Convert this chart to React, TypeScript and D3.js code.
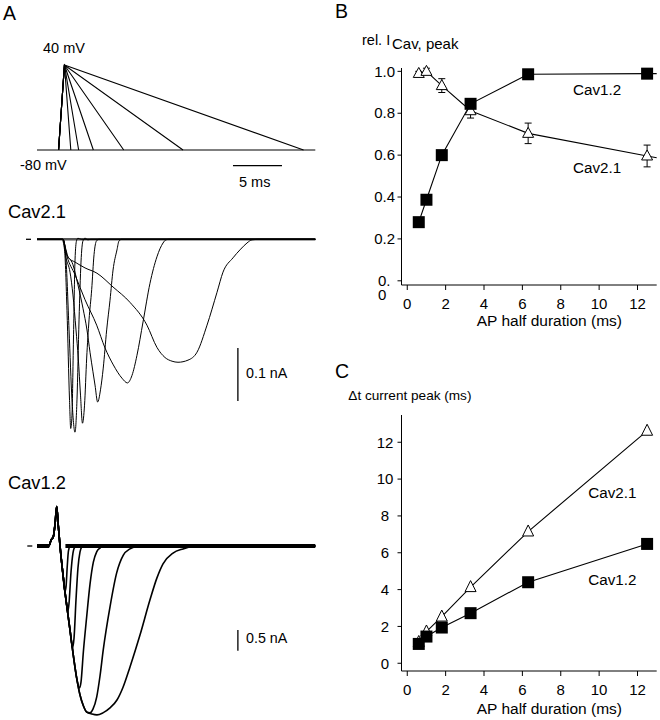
import React from "react";
import * as d3 from "d3";

const W = 660;
const H = 720;
const FONT = "'Liberation Sans', Arial, Helvetica, sans-serif";

// ---------- Panel A: AP-like voltage commands ----------
const sweepEnd = 28.4; // ms
const apStart = 2.2; // ms
const apPeak = 2.8; // ms
const apEnds = [3.45, 4.25, 5.75, 8.85, 14.9, 27.2]; // ms, back at -80 mV
const vRest = -80;
const vTop = 40;

// ---------- Cav2.1 currents (t ms, I pA) ----------
const cav21Trace1: [number, number][] = [[0, 0], [2.55, 0], [2.81, -20], [3.06, -134], [3.32, -304], [3.44, -357], [3.57, -332], [3.72, -190], [3.88, -39], [4.03, -3], [4.18, 2], [4.5, 0], [28.4, 0]];
const cav21Trace2: [number, number][] = [[0, 0], [2.65, 0], [2.96, -39], [3.27, -171], [3.57, -303], [3.88, -364], [4.08, -303], [4.29, -152], [4.49, -43], [4.69, -3], [4.9, 2], [5.2, -1], [5.5, 0], [28.4, 0]];
const cav21Trace3: [number, number][] = [[0, 0], [2.65, 0], [2.96, -35], [3.37, -62], [3.67, -105], [3.98, -171], [4.21, -224], [4.44, -294], [4.64, -347], [4.85, -313], [5.07, -224], [5.31, -152], [5.58, -95], [5.82, -29], [6.07, -3], [6.33, 0], [28.4, 0]];
const cav21Trace4: [number, number][] = [[0, 0], [2.65, 0], [2.96, -24], [3.67, -48], [4.18, -86], [4.69, -130], [5.1, -171], [5.41, -213], [5.71, -250], [5.92, -275], [6.19, -307], [6.48, -284], [6.76, -243], [7.11, -171], [7.45, -115], [7.76, -58], [8.16, -20], [8.37, -3], [8.67, 0], [28.4, 0]];
const cav21Trace5: [number, number][] = [[0, 0], [2.65, 0], [3.06, -32], [3.88, -67], [4.9, -114], [6.09, -162], [6.94, -205], [7.79, -237], [8.67, -262], [9.23, -271], [9.69, -257], [10.2, -219], [10.82, -156], [11.53, -83], [12.24, -33], [12.86, -7], [13.16, -1], [13.5, 0], [28.4, 0]];
const cav21Trace6: [number, number][] = [[0, 0], [2.65, 0], [2.96, -20], [3.21, -35], [3.88, -43], [4.9, -54], [6.12, -64], [7.76, -90], [9.49, -119], [11.22, -162], [12.24, -204], [13.06, -223], [13.78, -230], [14.39, -232], [15.41, -228], [16.33, -213], [17.35, -162], [18.37, -100], [18.98, -62], [20.0, -35], [20.71, -20], [21.43, -7], [21.94, -1], [22.76, 0], [28.4, 0]];

// ---------- Cav1.2 currents (t ms, I nA) ----------
const cav12Onset: [number, number][] = [[0, 0], [1.2, 0], [1.45, 0.15], [1.66, 0.22], [1.85, 0.55], [2.01, 0.95], [2.17, 0.5], [2.35, 0], [2.68, -0.75], [3.03, -1.43], [3.37, -2.03], [3.7, -2.63], [4.05, -3.19], [4.39, -3.6], [4.73, -3.86], [5.07, -4.01]];
const cav12Tail1: [number, number][] = [[2.84, -1.11], [2.96, -0.99], [3.09, -0.48], [3.21, -0.12], [3.37, -0.01], [3.57, 0], [28.4, 0]];
const cav12Tail2: [number, number][] = [[3.14, -1.59], [3.27, -1.38], [3.47, -0.63], [3.67, -0.17], [3.88, -0.02], [4.08, 0], [28.4, 0]];
const cav12Tail3: [number, number][] = [[3.62, -2.46], [3.78, -2.22], [3.98, -1.3], [4.18, -0.53], [4.39, -0.14], [4.59, -0.02], [4.8, 0], [28.4, 0]];
const cav12Tail4: [number, number][] = [[4.34, -3.43], [4.49, -3.29], [4.73, -2.56], [5.07, -1.71], [5.41, -0.92], [5.75, -0.39], [6.09, -0.14], [6.43, -0.05], [6.73, 0], [28.4, 0]];
const cav12Tail5: [number, number][] = [[5.41, -4.03], [5.71, -3.94], [6.09, -3.65], [6.43, -3.14], [6.76, -2.51], [7.45, -1.47], [8.13, -0.65], [8.81, -0.22], [9.49, -0.07], [10.1, -0.01], [10.5, 0], [28.4, 0]];
const cav12Tail6: [number, number][] = [[5.61, -4.06], [6.12, -4.08], [6.73, -4.03], [7.45, -3.91], [8.16, -3.72], [8.78, -3.41], [9.49, -2.92], [10.51, -2.15], [11.53, -1.3], [12.24, -0.77], [12.86, -0.43], [13.88, -0.17], [14.9, -0.07], [15.92, -0.01], [16.63, 0], [28.4, 0]];

// ---------- Panel B ----------
const apHalf = [0.6, 1.0, 1.8, 3.3, 6.3, 12.5];
const relCav12 = [0.28, 0.387, 0.6, 0.845, 0.986, 0.989];
const relCav21 = [0.99, 1.0, 0.932, 0.812, 0.704, 0.596];
const relCav21Err = [0.01, 0.015, 0.033, 0.035, 0.049, 0.052];
const ticksBx = [0, 2, 4, 6, 8, 10, 12];
const ticksBy = [0.2, 0.4, 0.6, 0.8, 1.0];

// ---------- Panel C ----------
const dtCav21 = [1.15, 1.72, 2.53, 4.13, 7.15, 12.62];
const dtCav12 = [1.05, 1.45, 1.94, 2.72, 4.4, 6.48];
const ticksCx = [0, 2, 4, 6, 8, 10, 12];
const ticksCy = [0, 2, 4, 6, 8, 10, 12];

const tri = (cx: number, cy: number, w = 11, h = 10) =>
  `M${cx},${cy - h * 0.6}L${cx + w / 2},${cy + h * 0.4}L${cx - w / 2},${cy + h * 0.4}Z`;

export default function App() {
  // Panel A scales
  const tS = d3.scaleLinear().domain([0, sweepEnd]).range([37, 315.3]);
  const vS = d3.scaleLinear().domain([vRest, vTop]).range([150, 65]);
  const i21S = d3.scaleLinear().domain([0, -100]).range([239.3, 292.3]);
  const i12S = d3.scaleLinear().domain([0, -0.5]).range([546, 566.7]);

  const line21 = d3.line<[number, number]>().x((d) => tS(d[0])).y((d) => i21S(d[1])).curve(d3.curveMonotoneX);
  const line12 = d3.line<[number, number]>().x((d) => tS(d[0])).y((d) => i12S(d[1])).curve(d3.curveMonotoneX);
  const lineV = d3.line<[number, number]>().x((d) => tS(d[0])).y((d) => vS(d[1]));

  const cav21 = [cav21Trace1, cav21Trace2, cav21Trace3, cav21Trace4, cav21Trace5, cav21Trace6];
  const tails = [cav12Tail1, cav12Tail2, cav12Tail3, cav12Tail4, cav12Tail5, cav12Tail6];
  const cav12 = tails.map((tail) => [...cav12Onset.filter((p) => p[0] < tail[0][0]), ...tail] as [number, number][]);

  // Panel B scales
  const xB = d3.scaleLinear().domain([-0.3, 13]).range([401.5, 656.7]);
  const yB = d3.scaleLinear().domain([-0.02, 1.016]).range([285, 68]);
  // Panel C scales
  const xC = d3.scaleLinear().domain([-0.3, 13]).range([401.5, 656.7]);
  const yC = d3.scaleLinear().domain([-0.42, 13.48]).range([671, 415]);

  const lineB = d3.line<[number, number]>().x((d) => xB(d[0])).y((d) => yB(d[1]));
  const lineC = d3.line<[number, number]>().x((d) => xC(d[0])).y((d) => yC(d[1]));

  const extend = (xs: number[], ys: number[]): [number, number][] => {
    const pts: [number, number][] = xs.map((x, i) => [x, ys[i]]);
    const n = pts.length;
    const slope = (pts[n - 1][1] - pts[n - 2][1]) / (pts[n - 1][0] - pts[n - 2][0]);
    const xe = xB.domain()[1];
    pts.push([xe, pts[n - 1][1] + slope * (xe - pts[n - 1][0])]);
    return pts;
  };

  const txt = { fontFamily: FONT, fill: "#000" } as const;

  return (
    <svg width={W} height={H} style={{ position: "absolute", left: 0, top: 0, background: "#fff" }}>
      <rect x={0} y={0} width={W} height={H} fill="#fff" />
      {/* Panel letters */}
      <text x={3} y={20} fontSize={19.5} {...txt}>A</text>
      <text x={335} y={18} fontSize={19.5} {...txt}>B</text>
      <text x={335} y={378} fontSize={19.5} {...txt}>C</text>

      {/* Panel A voltage protocol */}
      <g fill="none" stroke="#000" strokeWidth={1.1}>
        <path d={lineV([[0, vRest], [sweepEnd, vRest]])!} />
        {apEnds.map((e, i) => (
          <path key={i} d={lineV([[apStart, vRest], [apPeak, vTop], [e, vRest]])!} />
        ))}
        <path d={`M${tS(20)},165.7H${tS(25)}`} strokeWidth={1.3} />
      </g>
      <text x={43} y={53} fontSize={14.5} {...txt}>40 mV</text>
      <text x={20} y={170} fontSize={14.5} {...txt}>-80 mV</text>
      <text x={239} y={186.5} fontSize={14.5} {...txt}>5 ms</text>

      {/* Cav2.1 traces */}
      <text x={8} y={218} fontSize={18.3} {...txt}>Cav2.1</text>
      <path d={`M26,${i21S(0)}H31`} stroke="#000" strokeWidth={1.3} />
      <path d={`M${tS(0)},${i21S(0)}H${tS(sweepEnd)}`} stroke="#555" strokeWidth={2.4} />
      <g fill="none" stroke="#000" strokeWidth={1}>
        {cav21.map((tr, i) => (
          <path key={i} d={line21(tr)!} />
        ))}
      </g>
      <path d={`M${tS(20.5)},${i21S(-205)}V${i21S(-305)}`} stroke="#000" strokeWidth={1.3} />
      <text x={246} y={377.5} fontSize={14.3} {...txt}>0.1 nA</text>

      {/* Cav1.2 traces */}
      <text x={8} y={489} fontSize={18.3} {...txt}>Cav1.2</text>
      <path d={`M27.3,${i12S(0)}H32.3`} stroke="#000" strokeWidth={1.3} />
      <g stroke="#000" strokeWidth={4}>
        <path d={`M${tS(0)},${i12S(0)}H${tS(1.25)}`} />
        <path d={`M${tS(2.9)},${i12S(0)}H${tS(sweepEnd)}`} />
      </g>
      <g fill="none" stroke="#000" strokeWidth={1.6}>
        {cav12.map((tr, i) => (
          <path key={i} d={line12(tr)!} />
        ))}
      </g>
      <path d={`M${tS(20.5)},${i12S(-2.03)}V${i12S(-2.53)}`} stroke="#000" strokeWidth={1.3} />
      <text x={246} y={643} fontSize={14.3} {...txt}>0.5 nA</text>

      {/* Panel B */}
      <text x={362} y={45} fontSize={14.5} {...txt}>rel. I</text>
      <text x={392} y={48.5} fontSize={15} {...txt}>Cav, peak</text>
      <g stroke="#000" strokeWidth={1} fill="none">
        <path d={`M${xB.range()[0]},${yB.range()[1]}V${yB.range()[0]}H${xB.range()[1]}`} />
        {[0, ...ticksBy].map((t) => (
          <path key={t} d={`M${xB.range()[0] - 4},${yB(t)}H${xB.range()[0]}`} />
        ))}
        {ticksBx.map((t) => (
          <path key={t} d={`M${xB(t)},${yB.range()[0]}V${yB.range()[0] + 5}`} />
        ))}
      </g>
      {ticksBy.map((t) => (
        <text key={t} x={395} y={yB(t) + 5.2} fontSize={15} textAnchor="end" {...txt}>{t.toFixed(1)}</text>
      ))}
      <text x={378} y={yB(0) + 5.5} fontSize={15} {...txt}>
        <tspan x={378}>0.</tspan>
        <tspan x={378} dy={14}>0</tspan>
      </text>
      {ticksBx.map((t) => (
        <text key={t} x={xB(t)} y={308.5} fontSize={15} textAnchor="middle" {...txt}>{t}</text>
      ))}
      <text x={476.7} y={326} fontSize={15.5} {...txt}>AP half duration (ms)</text>
      <g fill="none" stroke="#000" strokeWidth={1.1}>
        <path d={lineB(extend(apHalf, relCav21))!} />
        <path d={lineB(extend(apHalf, relCav12))!} />
      </g>
      {apHalf.map((x, i) => (
        <g key={i} stroke="#000" strokeWidth={1}>
          <path d={`M${xB(x)},${yB(relCav21[i] - relCav21Err[i])}V${yB(relCav21[i] + relCav21Err[i])}`} />
          <path d={`M${xB(x) - 3.5},${yB(relCav21[i] - relCav21Err[i])}h7M${xB(x) - 3.5},${yB(relCav21[i] + relCav21Err[i])}h7`} />
          <path d={tri(xB(x), yB(relCav21[i]))} fill="#fff" />
        </g>
      ))}
      {apHalf.map((x, i) => (
        <rect key={i} x={xB(x) - 6} y={yB(relCav12[i]) - 6} width={12} height={12} fill="#000" />
      ))}
      <text x={573} y={95} fontSize={15.2} {...txt}>Cav1.2</text>
      <text x={573} y={173} fontSize={15.2} {...txt}>Cav2.1</text>

      {/* Panel C */}
      <text x={348.3} y={400} fontSize={13.6} {...txt}>Δt current peak (ms)</text>
      <g stroke="#000" strokeWidth={1} fill="none">
        <path d={`M${xC.range()[0]},${yC.range()[1]}V${yC.range()[0]}H${xC.range()[1]}`} />
        {ticksCy.map((t) => (
          <path key={t} d={`M${xC.range()[0] - 4},${yC(t)}H${xC.range()[0]}`} />
        ))}
        {ticksCx.map((t) => (
          <path key={t} d={`M${xC(t)},${yC.range()[0]}V${yC.range()[0] + 5}`} />
        ))}
      </g>
      {ticksCy.map((t) => (
        <text key={t} x={385} y={yC(t) + 5.3} fontSize={15} textAnchor="middle" {...txt}>{t}</text>
      ))}
      {ticksCx.map((t) => (
        <text key={t} x={xC(t)} y={694.5} fontSize={15} textAnchor="middle" {...txt}>{t}</text>
      ))}
      <text x={476.7} y={713.5} fontSize={15.5} {...txt}>AP half duration (ms)</text>
      <g fill="none" stroke="#000" strokeWidth={1.1}>
        <path d={lineC(apHalf.map((x, i) => [x, dtCav21[i]]))!} />
        <path d={lineC(apHalf.map((x, i) => [x, dtCav12[i]]))!} />
      </g>
      {apHalf.map((x, i) => (
        <path key={i} d={tri(xC(x), yC(dtCav21[i]), 11, 11)} fill="#fff" stroke="#000" strokeWidth={1} />
      ))}
      {apHalf.map((x, i) => (
        <rect key={i} x={xC(x) - 6} y={yC(dtCav12[i]) - 6} width={12} height={12} fill="#000" />
      ))}
      <text x={588.3} y={498} fontSize={15.2} {...txt}>Cav2.1</text>
      <text x={588.3} y={585} fontSize={15.2} {...txt}>Cav1.2</text>
    </svg>
  );
}
